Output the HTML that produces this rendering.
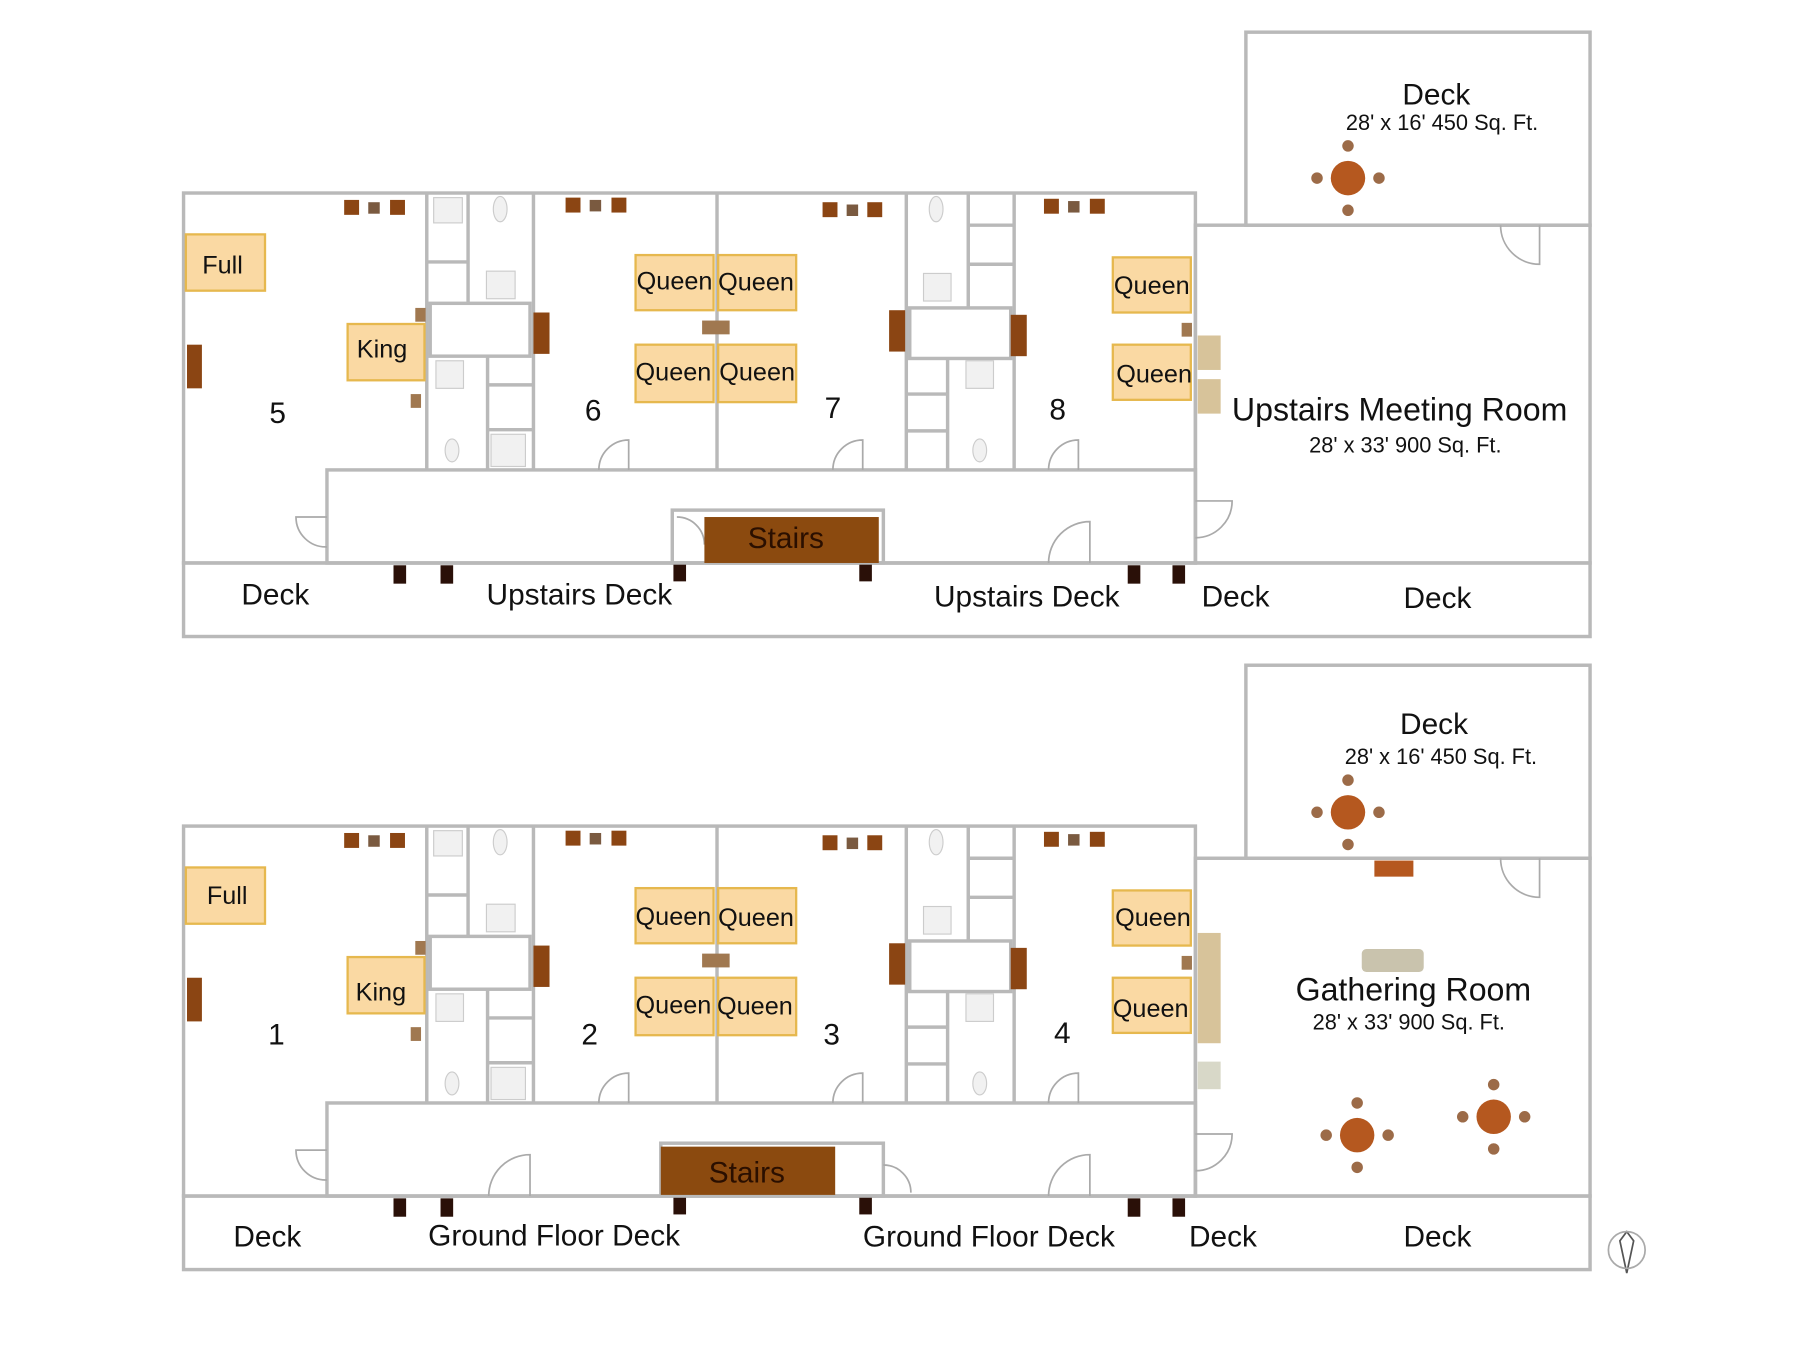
<!DOCTYPE html>
<html><head><meta charset="utf-8"><style>
html,body{margin:0;padding:0;background:#fff;width:1800px;height:1350px;overflow:hidden}
svg text{font-family:"Liberation Sans",sans-serif;fill:#111}
</style></head><body>
<svg width="1800" height="1350" viewBox="0 0 1569 1175" preserveAspectRatio="none" xmlns="http://www.w3.org/2000/svg">
<defs>
<g id="plan">
  <g fill="none" stroke="#b9b9b9" stroke-width="3">
    <rect x="1086" y="28" width="300" height="168"/>
    <rect x="160" y="168" width="882" height="322"/>
    <rect x="1042" y="196" width="344" height="294"/>
    <rect x="160" y="490" width="1226" height="64"/>
    <rect x="285" y="409" width="757" height="81"/>
    <line x1="372" y1="168" x2="372" y2="409"/>
    <line x1="465" y1="168" x2="465" y2="409"/>
    <line x1="625" y1="168" x2="625" y2="409"/>
    <line x1="790" y1="168" x2="790" y2="409"/>
    <line x1="884" y1="168" x2="884" y2="409"/>
    <rect x="375" y="264" width="87" height="46"/>
    <rect x="793" y="268" width="88" height="44"/>
    <line x1="408" y1="168" x2="408" y2="264"/>
    <line x1="425" y1="310" x2="425" y2="409"/>
    <line x1="372" y1="228" x2="408" y2="228"/>
    <line x1="425" y1="374" x2="465" y2="374"/>
    <line x1="425" y1="335" x2="465" y2="335"/>
    <line x1="844" y1="168" x2="844" y2="268"/>
    <line x1="826" y1="312" x2="826" y2="409"/>
    <line x1="844" y1="196" x2="884" y2="196"/>
    <line x1="844" y1="230" x2="884" y2="230"/>
    <line x1="790" y1="343" x2="826" y2="343"/>
    <line x1="790" y1="375" x2="826" y2="375"/>
  </g>
  <g fill="none" stroke="#aaa" stroke-width="1.5">
    <path d="M548 409 V383 A26 26 0 0 0 522 409"/>
    <path d="M752 409 V383 A26 26 0 0 0 726 409"/>
    <path d="M940 409 V383 A26 26 0 0 0 914 409"/>
    <path d="M285 450 H258 A26 26 0 0 0 285 476"/>
    <path d="M950 490 V454 A36 36 0 0 0 914 490"/>
    <path d="M1042 436 H1074 A32 32 0 0 1 1042 468"/>
    <path d="M1342 196 V230 A34 34 0 0 1 1308 196"/>
  </g>
  <g fill="#fad9a3" stroke="#e6b84e" stroke-width="2">
    <rect x="162" y="204" width="69" height="49"/>
    <rect x="303" y="282" width="67" height="49"/>
    <rect x="554" y="222" width="68" height="48"/>
    <rect x="626" y="222" width="68" height="48"/>
    <rect x="554" y="300" width="68" height="50"/>
    <rect x="626" y="300" width="68" height="50"/>
    <rect x="970" y="224" width="68" height="48"/>
    <rect x="970" y="300" width="68" height="48"/>
  </g>
  <g fill="#8b4513">
    <rect x="300" y="174" width="13" height="13"/><rect x="321" y="176" width="10" height="10" fill="#7a5a40"/><rect x="340" y="174" width="13" height="13"/>
    <rect x="493" y="172" width="13" height="13"/><rect x="514" y="174" width="10" height="10" fill="#7a5a40"/><rect x="533" y="172" width="13" height="13"/>
    <rect x="717" y="176" width="13" height="13"/><rect x="738" y="178" width="10" height="10" fill="#7a5a40"/><rect x="756" y="176" width="13" height="13"/>
    <rect x="910" y="173" width="13" height="13"/><rect x="931" y="175" width="10" height="10" fill="#7a5a40"/><rect x="950" y="173" width="13" height="13"/>
    <rect x="163" y="300" width="13" height="38"/>
    <rect x="465" y="272" width="14" height="36"/>
    <rect x="775" y="270" width="14" height="36"/>
    <rect x="881" y="274" width="14" height="36"/>
    <rect x="612" y="279" width="24" height="12" fill="#a07850"/>
    <rect x="362" y="268" width="9" height="12" fill="#a07850"/>
    <rect x="358" y="343" width="9" height="12" fill="#a07850"/>
    <rect x="1030" y="281" width="9" height="12" fill="#a07850"/>
    <rect x="343" y="492" width="11" height="16" fill="#2a1008"/>
    <rect x="384" y="492" width="11" height="16" fill="#2a1008"/>
    <rect x="587" y="490" width="11" height="16" fill="#2a1008"/>
    <rect x="749" y="490" width="11" height="16" fill="#2a1008"/>
    <rect x="983" y="492" width="11" height="16" fill="#2a1008"/>
    <rect x="1022" y="492" width="11" height="16" fill="#2a1008"/>
  </g>
  <g fill="#f1f1f1" stroke="#ccc" stroke-width="1">
    <rect x="378" y="172" width="25" height="22"/>
    <rect x="424" y="236" width="25" height="24"/>
    <rect x="380" y="314" width="24" height="24"/>
    <rect x="428" y="378" width="30" height="28"/>
    <rect x="805" y="238" width="24" height="24"/>
    <rect x="842" y="314" width="24" height="24"/>
    <ellipse cx="436" cy="182" rx="6" ry="11"/>
    <ellipse cx="394" cy="392" rx="6" ry="10"/>
    <ellipse cx="816" cy="182" rx="6" ry="11"/>
    <ellipse cx="854" cy="392" rx="6" ry="10"/>
  </g>
</g>
<g id="tbl">
  <circle cx="0" cy="0" r="15" fill="#b5581f"/>
  <circle cx="0" cy="-28" r="5" fill="#9c6b48"/><circle cx="0" cy="28" r="5" fill="#9c6b48"/>
  <circle cx="-27" cy="0" r="5" fill="#9c6b48"/><circle cx="27" cy="0" r="5" fill="#9c6b48"/>
</g>
</defs>

<use href="#plan"/>
<rect x="586" y="444" width="184" height="46" fill="none" stroke="#b9b9b9" stroke-width="3"/>
<path d="M590 450 A24 24 0 0 1 614 474" fill="none" stroke="#aaa" stroke-width="1.5"/>
<rect x="614" y="450" width="152" height="40" fill="#8b4a0f"/>
<use href="#tbl" x="1175" y="155"/>
<rect x="1044" y="292" width="20" height="30" fill="#d7c39a"/>
<rect x="1044" y="330" width="20" height="30" fill="#d7c39a"/>

<g transform="translate(0,551)">
  <use href="#plan"/>
  <use href="#tbl" x="1175" y="156"/>
</g>
<rect x="576" y="995" width="194" height="46" fill="none" stroke="#b9b9b9" stroke-width="3"/>
<path d="M770 1014 A24 24 0 0 1 794 1038" fill="none" stroke="#aaa" stroke-width="1.5"/>
<path d="M462 1041 V1005 A36 36 0 0 0 426 1041" fill="none" stroke="#aaa" stroke-width="1.5"/>
<rect x="576" y="998" width="152" height="42" fill="#8b4a0f"/>
<use href="#tbl" x="1183" y="988"/>
<use href="#tbl" x="1302" y="972"/>
<rect x="1198" y="749" width="34" height="14" fill="#b5581f"/>
<rect x="1187" y="826" width="54" height="20" rx="4" fill="#c9c3ad"/>
<rect x="1044" y="812" width="20" height="96" fill="#d7c39a"/>
<rect x="1044" y="924" width="20" height="24" fill="#d8d8c8"/>
<path d="M1418 1072 L1412 1080 L1418 1108 L1424 1080 Z" fill="none" stroke="#555" stroke-width="1.5"/>
<circle cx="1418" cy="1088" r="16" fill="none" stroke="#aaa" stroke-width="1.5"/>

<g font-size="22">
<text x="194" y="238" text-anchor="middle">Full</text>
<text x="333" y="311" text-anchor="middle">King</text>
<text x="588" y="252" text-anchor="middle">Queen</text><text x="659" y="253" text-anchor="middle">Queen</text>
<text x="587" y="331" text-anchor="middle">Queen</text><text x="660" y="331" text-anchor="middle">Queen</text>
<text x="1004" y="256" text-anchor="middle">Queen</text><text x="1006" y="333" text-anchor="middle">Queen</text>
<text x="198" y="787" text-anchor="middle">Full</text>
<text x="332" y="871" text-anchor="middle">King</text>
<text x="587" y="805" text-anchor="middle">Queen</text><text x="659" y="806" text-anchor="middle">Queen</text>
<text x="587" y="882" text-anchor="middle">Queen</text><text x="658" y="883" text-anchor="middle">Queen</text>
<text x="1005" y="806" text-anchor="middle">Queen</text><text x="1003" y="885" text-anchor="middle">Queen</text>
</g>
<g font-size="26" text-anchor="middle">
<text x="242" y="368">5</text><text x="517" y="366">6</text><text x="726" y="364">7</text><text x="922" y="365">8</text>
<text x="241" y="909">1</text><text x="514" y="909">2</text><text x="725" y="909">3</text><text x="926" y="908">4</text>
<text x="685" y="477" style="fill:#2a0f00">Stairs</text>
<text x="651" y="1029" style="fill:#2a0f00">Stairs</text>
<text x="1252" y="91">Deck</text>
<text x="1250" y="639">Deck</text>
<text x="240" y="526">Deck</text><text x="505" y="526">Upstairs Deck</text><text x="895" y="528">Upstairs Deck</text>
<text x="1077" y="528">Deck</text><text x="1253" y="529">Deck</text>
<text x="233" y="1085">Deck</text><text x="483" y="1084">Ground Floor Deck</text><text x="862" y="1085">Ground Floor Deck</text>
<text x="1066" y="1085">Deck</text><text x="1253" y="1085">Deck</text>
<text x="1220" y="366" font-size="28">Upstairs Meeting Room</text>
<text x="1232" y="871" font-size="28">Gathering Room</text>
</g>
<g font-size="19" text-anchor="middle">
<text x="1257" y="113">28' x 16'  450 Sq. Ft.</text>
<text x="1256" y="665">28' x 16'  450 Sq. Ft.</text>
<text x="1225" y="394">28' x 33'  900 Sq. Ft.</text>
<text x="1228" y="896">28' x 33'  900 Sq. Ft.</text>
</g>
</svg>
</body></html>
